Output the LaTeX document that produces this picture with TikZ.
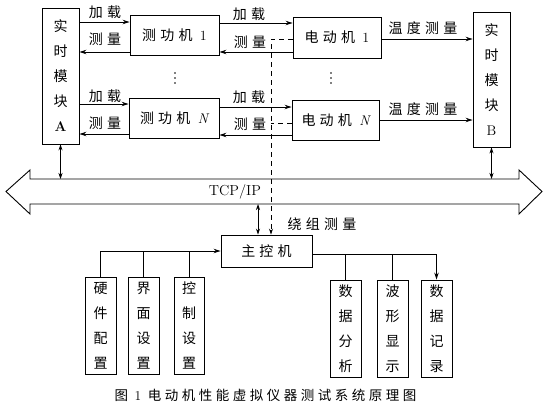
\documentclass[tikz,border=0pt]{standalone}
\usepackage{fontspec}
\newfontfamily\cjk[LetterSpace=30]{Noto Sans CJK SC}
\newfontfamily\cjkcap[LetterSpace=26]{Noto Sans CJK SC}
\usetikzlibrary{arrows.meta,calc}
\newcommand{\lat}[1]{{\rmfamily #1}}
\begin{document}
\begin{tikzpicture}[x=1pt,y=-1pt,
  box/.style={draw,line width=0.9pt,inner sep=0pt,font=\cjk\fontsize{14}{25}\selectfont,align=center},
  lbl/.style={font=\cjk\fontsize{14}{16}\selectfont,inner sep=0pt},
  arr/.style={line width=0.8pt,-{Stealth[length=7pt,width=4.5pt]}},
  biarr/.style={line width=0.8pt,{Stealth[length=6pt,width=4pt]}-{Stealth[length=6pt,width=4pt]}},
  ln/.style={line width=0.8pt},
  dsh/.style={line width=0.8pt,dash pattern=on 5pt off 4pt},
  dotc/.style={fill,radius=0.9pt}]
\useasboundingbox (0,0) rectangle (548,415);
% boxes
\node[box,minimum width=37pt,minimum height=136pt] (A) at (60.5,76) {实\\时\\模\\块\\\lat{\bfseries A}};
\node[box,minimum width=37pt,minimum height=135pt] (B) at (491.5,79.5) {实\\时\\模\\块\\\lat{B}};
\node[box,minimum width=89pt,minimum height=40pt] (D1) at (174.5,35) {测功机 \lat{1}};
\node[box,minimum width=90pt,minimum height=40pt] (DN) at (174,118) {测功机 \lat{\itshape N}};
\node[box,minimum width=88pt,minimum height=41pt] (M1) at (337,37.5) {电动机 \lat{1}};
\node[box,minimum width=87pt,minimum height=40pt] (MN) at (335.5,120) {电动机 \lat{\itshape N}};
\node[box,minimum width=91pt,minimum height=32pt] (C) at (266.5,251) {主控机};
\node[box,minimum width=31pt,minimum height=97pt] (h1) at (100.5,325.5) {硬\\件\\配\\置};
\node[box,minimum width=31pt,minimum height=97pt] (h2) at (143.5,325.5) {界\\面\\设\\置};
\node[box,minimum width=30pt,minimum height=97pt] (h3) at (189,325.5) {控\\制\\设\\置};
\node[box,minimum width=31pt,minimum height=97pt] (r1) at (345.5,328.5) {数\\据\\分\\析};
\node[box,minimum width=31pt,minimum height=97pt] (r2) at (392.5,328.5) {波\\形\\显\\示};
\node[box,minimum width=31pt,minimum height=97pt] (r3) at (436.5,328.5) {数\\据\\记\\录};
% bus
\coordinate (bt) at (0,179);
\coordinate (bb) at (0,204);
\draw[line width=0.9pt] (30,179) -- (30,170) -- (6,191.5) -- (30,214) -- (30,204) -- (519,204) -- (519,214) -- (542,191.5) -- (519,170) -- (519,179) -- cycle;
\node[font=\fontsize{14.5}{16}\selectfont,inner sep=0pt] (tcp) at (235,191.5) {TCP/IP};
% A <-> dynamometers
\draw[arr] ([yshift=13pt]D1.west -| A.east) -- ([yshift=13pt]D1.west);
\draw[arr] ([yshift=-17pt]D1.west) -- ([yshift=-17pt]D1.west -| A.east);
\draw[arr] ([yshift=14pt]DN.west -| A.east) -- ([yshift=14pt]DN.west);
\draw[arr] ([yshift=-16pt]DN.west) -- ([yshift=-16pt]DN.west -| A.east);
% dynamometers <-> motors
\draw[arr] ([yshift=12pt]D1.east) -- ([yshift=12pt]D1.east -| M1.west);
\draw[arr] ([yshift=-17pt]D1.east -| M1.west) -- ([yshift=-17pt]D1.east);
\draw[arr] ([yshift=11pt]DN.east) -- ([yshift=11pt]DN.east -| MN.west);
\draw[arr] ([yshift=-17pt]DN.east -| MN.west) -- ([yshift=-17pt]DN.east);
% dashed winding measurement
\coordinate (dv) at ([xshift=4.5pt]C.north);
\draw[dsh,-{Stealth[length=6pt,width=4pt]}] ([yshift=-1.5pt]M1.west) -| (dv);
\draw[dsh] ([yshift=-3pt]MN.west) -- ([yshift=-3pt]MN.west -| dv);
% motors -> B
\draw[arr] ([yshift=-1.5pt]M1.east) -- ([yshift=-1.5pt]M1.east -| B.west);
\draw[arr] (MN.east) -- (MN.east -| B.west);
% bus connections
\draw[biarr] (A.south) -- (A.south |- bt);
\draw[biarr] (B.south) -- (B.south |- bt);
\draw[biarr] ([xshift=-8.5pt]C.north |- bb) -- ([xshift=-8.5pt]C.north);
% main controller left
\draw[arr] (h1.north) |- (C.west);
\draw[ln] (h2.north) -- (h2.north |- C.west);
\draw[ln] (h3.north) -- (h3.north |- C.west);
% main controller right
\coordinate (ce) at ([yshift=-3pt]C.east);
\draw[arr] (ce) -| (r3.north);
\draw[ln] (r1.north) -- (r1.north |- ce);
\draw[ln] (r2.north) -- (r2.north |- ce);
% labels
\node[lbl] (l1) at (105,12) {加载};
\node[lbl] (l2) at (105,39) {测量};
\node[lbl] (l3) at (105,96) {加载};
\node[lbl] (l4) at (105,123) {测量};
\node[lbl] (l5) at (249,14) {加载};
\node[lbl] (l6) at (250,42) {测量};
\node[lbl] (l7) at (249,97) {加载};
\node[lbl] (l8) at (250,124) {测量};
\node[lbl] (l9) at (423,28) {温度测量};
\node[lbl] (l10) at (423,109) {温度测量};
\node[lbl] (l11) at (322,224) {绕组测量};
% vertical ellipses
\foreach \yy in {73,78,83} {
  \fill (175,\yy) circle[radius=0.9pt];
  \fill (331,\yy) circle[radius=0.9pt];
}
\node[font=\cjkcap\fontsize{13.5}{15}\selectfont,inner sep=0pt] (cap) at (265.5,395) {图 \lat{1} 电动机性能虚拟仪器测试系统原理图};
\end{tikzpicture}
\end{document}
